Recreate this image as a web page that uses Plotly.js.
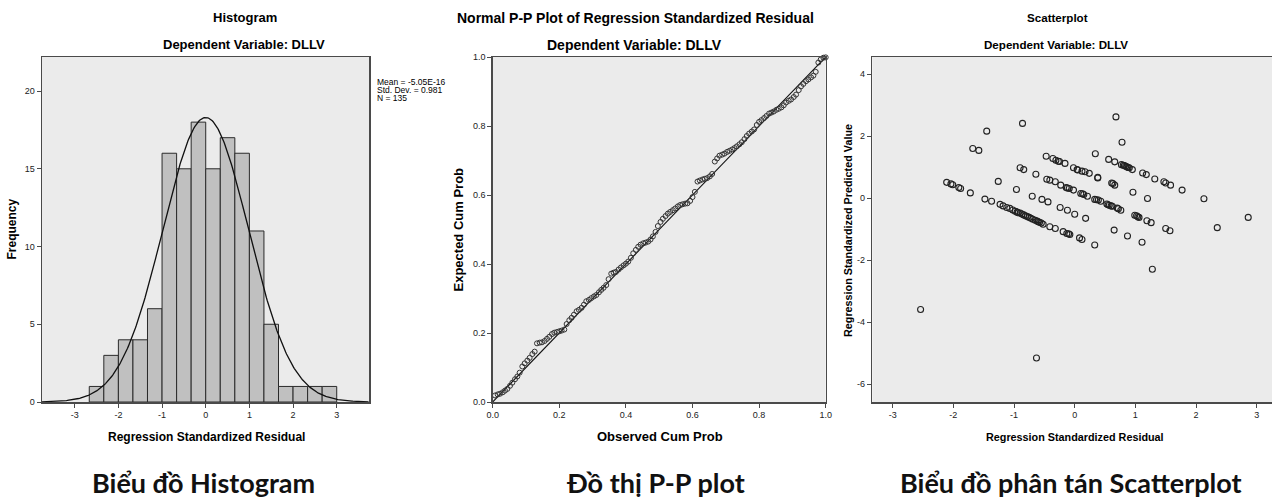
<!DOCTYPE html>
<html>
<head>
<meta charset="utf-8">
<script src="https://cdn.plot.ly/plotly-3.0.1.min.js"></script>
<style>
  html, body { margin: 0; padding: 0; background: #fff; }
  #chart { width: 1272px; height: 500px; }
</style>
</head>
<body>
<div id="chart"></div>
<script>
// ---------------- DATA ----------------
// Histogram (bins of width 1/3)
const binCenters = [-2.5, -2.1667, -1.8333, -1.5, -1.1667, -0.8333, -0.5, -0.1667, 0.1667, 0.5, 0.8333, 1.1667, 1.5, 1.8333, 2.1667, 2.5, 2.8333];
const binCounts  = [1, 3, 4, 4, 6, 16, 15, 18, 15, 17, 16, 11, 5, 1, 1, 1, 1];
const binWidth = 1 / 3;
const residMean = -5.05e-16;
const residSD = 0.981;
const residN = 135;
const statLines = ["Mean = -5.05E-16", "Std. Dev. = 0.981", "N = 135"];

// Tick values / labels
const histXTicks = [-3, -2, -1, 0, 1, 2, 3];
const histXLabels = ["-3", "-2", "-1", "0", "1", "2", "3"];
const histYTicks = [0, 5, 10, 15, 20];
const ppTicks = [0, 0.2, 0.4, 0.6, 0.8, 1];
const ppLabels = ["0.0", "0.2", "0.4", "0.6", "0.8", "1.0"];
const scatXTicks = [-3, -2, -1, 0, 1, 2, 3];
const scatXLabels = ["-3", "-2", "-1", "0", "1", "2", "3"];
const scatYTicks = [-6, -4, -2, 0, 2, 4];
const scatYLabels = ["-6", "-4", "-2", "0", "2", "4"];

// Normal P-P plot
const ppObserved = [
  0.007,0.015,0.022,0.030,0.037,0.044,0.052,0.059,0.067,0.074,
  0.081,0.089,0.096,0.104,0.111,0.119,0.126,0.133,0.141,0.148,
  0.156,0.163,0.170,0.178,0.185,0.193,0.200,0.207,0.215,0.222,
  0.230,0.237,0.244,0.252,0.259,0.267,0.274,0.281,0.289,0.296,
  0.304,0.311,0.319,0.326,0.333,0.341,0.348,0.356,0.363,0.370,
  0.378,0.385,0.393,0.400,0.407,0.415,0.422,0.430,0.437,0.444,
  0.452,0.459,0.467,0.474,0.481,0.489,0.496,0.504,0.511,0.519,
  0.526,0.533,0.541,0.548,0.556,0.563,0.570,0.578,0.585,0.593,
  0.600,0.607,0.615,0.622,0.630,0.637,0.644,0.652,0.659,0.667,
  0.674,0.681,0.689,0.696,0.704,0.711,0.719,0.726,0.733,0.741,
  0.748,0.756,0.763,0.770,0.778,0.785,0.793,0.800,0.807,0.815,
  0.822,0.830,0.837,0.844,0.852,0.859,0.867,0.874,0.881,0.889,
  0.896,0.904,0.911,0.919,0.926,0.933,0.941,0.948,0.956,0.963,
  0.970,0.978,0.985,0.993,1.000];
const ppExpected = [
  0.019,0.022,0.024,0.028,0.033,0.038,0.047,0.056,0.066,0.074,
  0.085,0.103,0.112,0.120,0.128,0.139,0.146,0.170,0.172,0.173,
  0.177,0.183,0.189,0.197,0.201,0.203,0.205,0.207,0.210,0.226,
  0.237,0.244,0.253,0.263,0.267,0.273,0.282,0.292,0.296,0.301,
  0.306,0.310,0.318,0.325,0.331,0.339,0.356,0.372,0.375,0.377,
  0.384,0.390,0.396,0.401,0.407,0.418,0.431,0.441,0.450,0.456,
  0.460,0.462,0.465,0.471,0.480,0.493,0.510,0.522,0.531,0.539,
  0.546,0.551,0.556,0.561,0.567,0.571,0.573,0.575,0.576,0.583,
  0.594,0.609,0.639,0.642,0.645,0.647,0.649,0.654,0.661,0.697,
  0.706,0.714,0.717,0.720,0.725,0.728,0.732,0.736,0.741,0.747,
  0.753,0.762,0.771,0.778,0.784,0.790,0.803,0.812,0.817,0.823,
  0.829,0.836,0.839,0.842,0.847,0.850,0.854,0.860,0.868,0.873,
  0.877,0.884,0.891,0.904,0.915,0.922,0.930,0.935,0.941,0.946,
  0.957,0.984,0.993,0.998,0.999];
const ppRefLine = [0, 1];

// Scatterplot: standardized residual (x) vs standardized predicted value (y)
const scatResid = [
  -1.45,-0.86,-1.68,-1.58,0.68,0.78,0.34,
  -2.11,-2.04,-2.01,-1.91,-1.88,-1.72,-1.26,-0.96,-0.90,-0.84,-0.64,-0.70,-0.54,-0.44,
  -0.47,-0.36,-0.31,-0.27,-0.25,-0.16,-0.02,0.04,0.05,0.12,0.17,0.24,0.38,0.38,
  0.61,0.63,0.66,0.96,1.20,
  0.56,0.66,0.77,0.80,0.82,0.84,0.86,0.88,0.90,0.95,
  1.12,1.18,1.32,1.47,1.50,1.58,1.77,2.13,2.86,2.35,
  -0.46,-0.41,-0.32,-0.23,-0.14,-0.12,-0.09,-0.02,0.10,0.13,0.15,0.21,0.33,0.36,0.39,0.43,0.53,0.55,0.57,0.60,0.62,0.70,0.72,0.76,
  0.99,1.02,1.04,1.06,1.19,1.26,1.50,1.57,
  -0.24,-0.12,0.00,0.18,
  0.65,0.87,1.11,1.28,-2.54,-0.63,
  -1.48,-1.37,
  -1.23,-1.18,-1.12,-1.07,-1.02,-0.98,-0.95,-0.93,-0.90,-0.87,-0.84,-0.81,-0.78,-0.75,-0.72,-0.69,-0.65,-0.62,-0.60,-0.58,-0.55,-0.52,
  -0.41,-0.32,-0.19,-0.13,-0.10,-0.08,0.08,0.12,0.33];
const scatPred = [
  2.16,2.41,1.60,1.54,2.62,1.80,1.43,
  0.51,0.46,0.43,0.34,0.31,0.17,0.54,0.28,0.98,0.92,0.77,0.06,-0.04,-0.12,
  1.35,1.28,1.22,1.19,1.18,1.12,0.98,0.92,0.91,0.87,0.85,0.80,0.65,0.67,
  0.49,0.47,0.42,0.19,-0.01,
  1.25,1.17,1.08,1.06,1.05,1.03,1.01,0.99,0.98,0.92,
  0.81,0.76,0.62,0.53,0.49,0.42,0.26,-0.02,-0.62,-0.95,
  0.61,0.58,0.53,0.42,0.34,0.33,0.31,0.26,0.15,0.14,0.12,0.06,-0.04,-0.05,-0.06,-0.10,-0.19,-0.21,-0.23,-0.25,-0.26,-0.32,-0.34,-0.39,
  -0.55,-0.57,-0.60,-0.62,-0.73,-0.79,-0.98,-1.05,
  -0.30,-0.39,-0.52,-0.65,
  -1.03,-1.22,-1.42,-2.29,-3.59,-5.15,
  -0.03,-0.10,
  -0.20,-0.25,-0.30,-0.33,-0.38,-0.42,-0.45,-0.47,-0.48,-0.51,-0.54,-0.57,-0.59,-0.62,-0.65,-0.68,-0.71,-0.74,-0.76,-0.78,-0.80,-0.84,
  -0.92,-0.98,-1.08,-1.14,-1.15,-1.17,-1.28,-1.33,-1.51];

// ---------------- LAYOUT HELPERS ----------------
const W = 1272, H = 500;
const FONT = "Liberation Sans, Arial, Helvetica, sans-serif";
const CAPFONT = "Lato, 'Open Sans', 'Noto Sans', sans-serif";
const AX = '#4a4a4a';
const px = v => v / W;
const py = v => 1 - v / H;

function ann(text, x, y, size, extra) {
  return Object.assign({
    text: text, xref: 'paper', yref: 'paper', x: px(x), y: py(y),
    xanchor: 'center', yanchor: 'middle', showarrow: false,
    font: { family: FONT, size: size, color: '#000' }
  }, extra || {});
}

// normal curve from the stated mean / SD / N
const curveX = [], curveY = [];
for (let x = -3.75; x <= 3.74; x += 0.02) {
  curveX.push(x);
  const z = (x - residMean) / residSD;
  curveY.push(residN * binWidth * Math.exp(-0.5 * z * z) / (residSD * Math.sqrt(2 * Math.PI)));
}

const traces = [
  { type: 'bar', x: binCenters, y: binCounts, width: binWidth, xaxis: 'x', yaxis: 'y',
    marker: { color: '#c0c0c0', line: { color: '#2a2a2a', width: 1 } }, hoverinfo: 'x+y' },
  { type: 'scatter', mode: 'lines', x: curveX, y: curveY, xaxis: 'x', yaxis: 'y',
    line: { color: '#111', width: 1.3 }, hoverinfo: 'skip' },
  { type: 'scatter', mode: 'lines', x: ppRefLine, y: ppRefLine, xaxis: 'x2', yaxis: 'y2',
    line: { color: '#111', width: 1.1 }, hoverinfo: 'skip' },
  { type: 'scatter', mode: 'markers', x: ppObserved, y: ppExpected, xaxis: 'x2', yaxis: 'y2',
    cliponaxis: false,
    marker: { symbol: 'circle-open', size: 5, color: '#333', line: { width: 1, color: '#333' } } },
  { type: 'scatter', mode: 'markers', x: scatResid, y: scatPred, xaxis: 'x3', yaxis: 'y3',
    marker: { symbol: 'circle-open', size: 6, color: '#222', line: { width: 1.1, color: '#222' } } }
];

function axisBase(extra) {
  return Object.assign({
    showline: true, linecolor: AX, linewidth: 1.5, mirror: true,
    ticks: 'outside', ticklen: 4, tickwidth: 1, tickcolor: AX,
    showgrid: false, zeroline: false, fixedrange: true,
    tickfont: { family: FONT, size: 9, color: '#222' }
  }, extra);
}

const yDom = [py(402), py(57)];

const layout = {
  width: W, height: H, autosize: false,
  margin: { l: 0, r: 0, t: 0, b: 0, pad: 0 },
  paper_bgcolor: '#ffffff', plot_bgcolor: '#ebebeb',
  showlegend: false, bargap: 0,
  font: { family: FONT, color: '#000' },
  xaxis: axisBase({ domain: [px(42), px(369)], range: [-3.749, 3.739], anchor: 'y', tickvals: histXTicks, ticktext: histXLabels }),
  yaxis: axisBase({ domain: yDom, range: [0, 22.19], anchor: 'x', tickvals: histYTicks }),
  xaxis2: axisBase({ domain: [px(492.7), px(825.7)], range: [0, 1], anchor: 'y2', tickvals: ppTicks, ticktext: ppLabels }),
  yaxis2: axisBase({ domain: yDom, range: [0, 1], anchor: 'x2', tickvals: ppTicks, ticktext: ppLabels }),
  xaxis3: axisBase({ domain: [px(872.3), 1], range: [-3.336, 3.252], anchor: 'y3', tickvals: scatXTicks, ticktext: scatXLabels }),
  yaxis3: axisBase({ domain: yDom, range: [-6.57, 4.55], anchor: 'x3', mirror: false, tickvals: scatYTicks, ticktext: scatYLabels }),
  annotations: [
    // Histogram
    ann('<b>Histogram</b>', 244.5, 17.5, 13),
    ann('<b>Dependent Variable: DLLV</b>', 244, 45, 13),
    ann('<b>Frequency</b>', 11, 229.5, 12, { textangle: -90 }),
    ann('<b>Regression Standardized Residual</b>', 206, 436.5, 12),
    ann(statLines[0], 375, 81.5, 8.5, { xanchor: 'left' }),
    ann(statLines[1], 375, 89.5, 8.5, { xanchor: 'left' }),
    ann(statLines[2], 375, 97.5, 8.5, { xanchor: 'left' }),
    // P-P plot
    ann('<b>Normal P-P Plot of Regression Standardized Residual</b>', 635, 17.5, 14),
    ann('<b>Dependent Variable: DLLV</b>', 634.5, 45, 14),
    ann('<b>Expected Cum Prob</b>', 458, 229.5, 13, { textangle: -90 }),
    ann('<b>Observed Cum Prob</b>', 659.5, 436.5, 13),
    // Scatterplot
    ann('<b>Scatterplot</b>', 1057, 17.5, 11.6),
    ann('<b>Dependent Variable: DLLV</b>', 1056, 45, 11.6),
    ann('<b>Regression Standardized Predicted Value</b>', 848, 231, 10.8, { textangle: -90 }),
    ann('<b>Regression Standardized Residual</b>', 1075, 436.5, 10.8),
    // Captions
    ann('<b>Biểu đồ Histogram</b>', 203.5, 482, 27, { font: { family: CAPFONT, size: 27, color: '#111' } }),
    ann('<b>Đồ thị P-P plot</b>', 655.7, 482, 27, { font: { family: CAPFONT, size: 27, color: '#111' } }),
    ann('<b>Biểu đồ phân tán Scatterplot</b>', 1070.5, 482, 27, { font: { family: CAPFONT, size: 27, color: '#111' } })
  ]
};

Plotly.newPlot('chart', traces, layout, { displayModeBar: false, staticPlot: true });
</script>
</body>
</html>
